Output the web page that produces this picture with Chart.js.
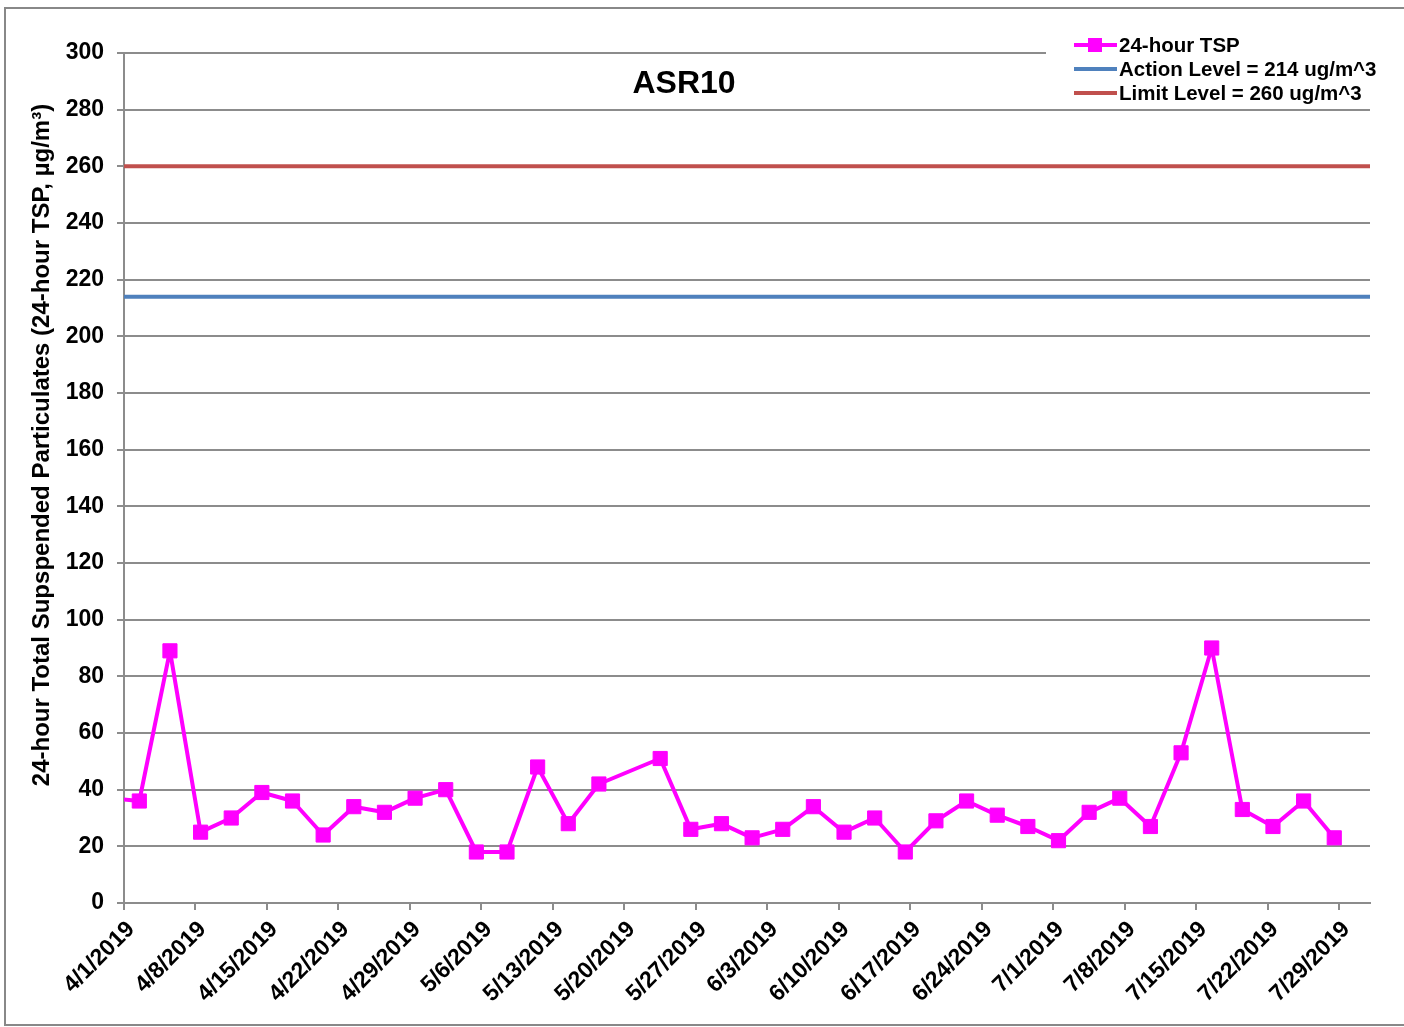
<!DOCTYPE html>
<html>
<head>
<meta charset="utf-8">
<script src="https://cdn.jsdelivr.net/npm/chart.js@4/dist/chart.umd.min.js"></script>
<style>
  html, body { margin: 0; padding: 0; background: #ffffff; }
  #wrap { position: relative; width: 1404px; height: 1027px; }
</style>
</head>
<body>
<div id="wrap"><canvas id="c"></canvas></div>
<script>
// ---- Data ----
const startDate = '4/1/2019';
const endDate = '8/1/2019';
const sampleDates = ['3/30/2019',
  '4/2/2019','4/5/2019','4/8/2019','4/11/2019','4/14/2019','4/17/2019','4/20/2019','4/23/2019','4/26/2019','4/29/2019',
  '5/2/2019','5/5/2019','5/8/2019','5/11/2019','5/14/2019','5/17/2019','5/23/2019','5/26/2019','5/29/2019',
  '6/1/2019','6/4/2019','6/7/2019','6/10/2019','6/13/2019','6/16/2019','6/19/2019','6/22/2019','6/25/2019','6/28/2019',
  '7/1/2019','7/4/2019','7/7/2019','7/10/2019','7/13/2019','7/16/2019','7/19/2019','7/22/2019','7/25/2019','7/28/2019'];
const tspValues = [37,
  36,89,25,30,39,36,24,34,32,37,
  40,18,18,48,28,42,51,26,28,
  23,26,34,25,30,18,29,36,31,27,
  22,32,37,27,53,90,33,27,36,23];
const actionLevel = 214;
const limitLevel = 260;
const tickLabels = ['4/1/2019','4/8/2019','4/15/2019','4/22/2019','4/29/2019','5/6/2019','5/13/2019','5/20/2019',
  '5/27/2019','6/3/2019','6/10/2019','6/17/2019','6/24/2019','7/1/2019','7/8/2019','7/15/2019','7/22/2019','7/29/2019'];
const chartTitle = 'ASR10';
const yTitle = '24-hour Total Supspended Particulates (24-hour TSP, \u00b5g/m\u00b3)';
const legendLabels = ['24-hour TSP', 'Action Level = 214 ug/m^3', 'Limit Level = 260 ug/m^3'];

// ---- Helpers ----
function dayOffset(s) {
  const [m, d, y] = s.split('/').map(Number);
  const [m0, d0, y0] = startDate.split('/').map(Number);
  return Math.round((Date.UTC(y, m - 1, d) - Date.UTC(y0, m0 - 1, d0)) / 86400000);
}
const xMax = dayOffset(endDate);
const tspPoints = sampleDates.map((s, i) => ({ x: dayOffset(s) + 0.5, y: tspValues[i] }));
const tickValues = tickLabels.map(dayOffset);

const FONT = '"Liberation Sans", Arial, sans-serif';
const TSP_COLOR = '#FF00FF';
const ACTION_COLOR = '#4F81BD';
const LIMIT_COLOR = '#C0504D';
const GRID = '#8c8c8c';

const decor = {
  id: 'decor',
  afterDraw(chart) {
    const ctx = chart.ctx;
    ctx.save();
    // outer frame
    ctx.strokeStyle = '#888888';
    ctx.lineWidth = 2;
    ctx.beginPath();
    ctx.moveTo(1410, 8); ctx.lineTo(5, 8); ctx.lineTo(5, 1025); ctx.lineTo(1410, 1025);
    ctx.stroke();

    // title
    ctx.fillStyle = '#000';
    ctx.font = 'bold 32px ' + FONT;
    ctx.textAlign = 'center';
    ctx.textBaseline = 'middle';
    ctx.fillText(chartTitle, 684, 84);

    // y axis title
    ctx.save();
    ctx.translate(42, 445);
    ctx.rotate(-Math.PI / 2);
    ctx.font = 'bold 24px ' + FONT;
    ctx.fillText(yTitle, 0, 0);
    ctx.restore();

    // legend
    ctx.fillStyle = '#ffffff';
    ctx.fillRect(1046, 33, 350, 72);
    const rows = [45, 69, 93];
    const colors = [TSP_COLOR, ACTION_COLOR, LIMIT_COLOR];
    ctx.font = 'bold 20.5px ' + FONT;
    ctx.textAlign = 'left';
    ctx.textBaseline = 'middle';
    rows.forEach((yy, i) => {
      ctx.strokeStyle = colors[i];
      ctx.lineWidth = 4;
      ctx.beginPath();
      ctx.moveTo(1074, yy); ctx.lineTo(1117, yy);
      ctx.stroke();
      if (i === 0) {
        ctx.fillStyle = TSP_COLOR;
        ctx.fillRect(1088, yy - 7, 14, 14);
      }
      ctx.fillStyle = '#000';
      ctx.fillText(legendLabels[i], 1119, yy + 1);
    });
    ctx.restore();
  }
};

new Chart(document.getElementById('c'), {
  type: 'line',
  data: {
    datasets: [
      {
        label: legendLabels[0],
        data: tspPoints,
        borderColor: TSP_COLOR,
        backgroundColor: TSP_COLOR,
        borderWidth: 4,
        borderJoinStyle: 'round',
        pointStyle: 'rect',
        pointRadius: 10,
        pointBorderWidth: 1,
        pointBorderColor: TSP_COLOR,
        pointBackgroundColor: TSP_COLOR,
        tension: 0,
        clip: 0,
        order: 0
      },
      {
        label: legendLabels[1],
        data: [{ x: 0, y: actionLevel }, { x: xMax, y: actionLevel }],
        borderColor: ACTION_COLOR,
        borderWidth: 4,
        pointRadius: 0,
        order: 1
      },
      {
        label: legendLabels[2],
        data: [{ x: 0, y: limitLevel }, { x: xMax, y: limitLevel }],
        borderColor: LIMIT_COLOR,
        borderWidth: 4,
        pointRadius: 0,
        order: 1
      }
    ]
  },
  options: {
    responsive: true,
    maintainAspectRatio: false,
    animation: false,
    events: [],
    layout: { padding: { top: 53, right: 34, left: 0, bottom: 0 } },
    plugins: { legend: { display: false }, title: { display: false }, tooltip: { enabled: false } },
    scales: {
      x: {
        type: 'linear',
        min: 0,
        max: xMax,
        afterBuildTicks: (s) => { s.ticks = tickValues.map(v => ({ value: v })); },
        afterFit: (s) => { s.height = 124; },
        grid: { display: true, drawOnChartArea: false, drawTicks: true, tickLength: 7, color: GRID, lineWidth: 2 },
        border: { display: true, color: GRID, width: 2 },
        ticks: {
          autoSkip: false,
          minRotation: 45,
          maxRotation: 45,
          padding: 6,
          labelOffset: 7,
          color: '#000',
          font: { family: FONT, size: 23, weight: 'bold' },
          callback: (v) => tickLabels[tickValues.indexOf(v)]
        }
      },
      y: {
        min: 0,
        max: 300,
        afterFit: (s) => { s.width = 124; },
        grid: { color: GRID, lineWidth: 2, tickLength: 7 },
        border: { display: true, color: GRID, width: 2 },
        ticks: {
          stepSize: 20,
          padding: 13,
          color: '#000',
          font: { family: FONT, size: 23, weight: 'bold' }
        }
      }
    }
  },
  plugins: [decor]
});
</script>
</body>
</html>
